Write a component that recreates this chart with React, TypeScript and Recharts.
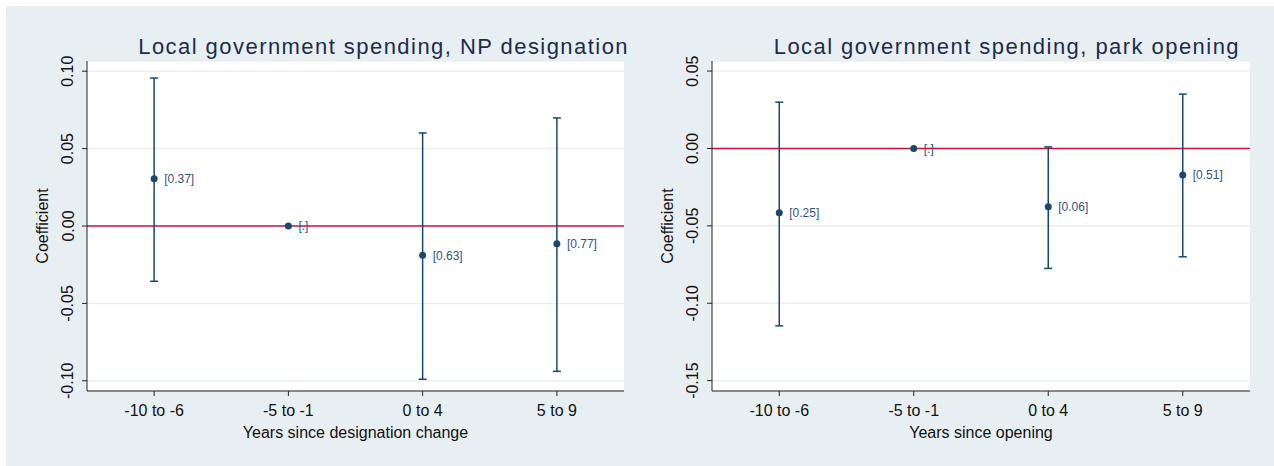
import {
  ComposedChart,
  Line,
  XAxis,
  YAxis,
  CartesianGrid,
  ReferenceLine,
  ErrorBar,
  LabelList,
  Label,
} from "recharts";

const PERIODS = ["-10 to -6", "-5 to -1", "0 to 4", "5 to 9"];

// NP designation panel
const NP_COEF = [0.0306, 0, -0.0189, -0.0114];
const NP_HIGH = [0.0956, null, 0.0601, 0.0698];
const NP_LOW = [-0.0357, null, -0.099, -0.0939];
const NP_PVAL = ["[0.37]", "[.]", "[0.63]", "[0.77]"];
const NP_TICKS = [-0.1, -0.05, 0, 0.05, 0.1];

// park opening panel
const OPEN_COEF = [-0.0416, 0, -0.0377, -0.0171];
const OPEN_HIGH = [0.0299, null, 0.001, 0.0351];
const OPEN_LOW = [-0.1146, null, -0.0775, -0.07];
const OPEN_PVAL = ["[0.25]", "[.]", "[0.06]", "[0.51]"];
const OPEN_TICKS = [-0.15, -0.1, -0.05, 0, 0.05];

const NAVY = "#1a476f";
const RED = "#c8143c";
const BG = "#e8eff3";
const FONT = "'Liberation Sans', Arial, sans-serif";

function buildRows(coef: number[], high: (number | null)[], low: (number | null)[], pval: string[]) {
  return PERIODS.map((p, i) => ({
    period: p,
    coef: coef[i],
    // asymmetric error bar: [distance below, distance above]
    err: high[i] == null ? null : [coef[i] - (low[i] as number), (high[i] as number) - coef[i]],
    pval: pval[i],
  }));
}

function YTick({ x, y, payload }: any) {
  const cx = x - 12;
  return (
    <text
      x={cx}
      y={y}
      transform={`rotate(-90 ${cx} ${y})`}
      textAnchor="middle"
      dominantBaseline="central"
      fontSize={16}
      fontFamily={FONT}
      fill="#111"
    >
      {Number(payload.value).toFixed(2)}
    </text>
  );
}

function Panel({
  rows,
  ticks,
  domain,
  xTitle,
  yAxisWidth,
  width,
  marginRight,
}: {
  rows: any[];
  ticks: number[];
  domain: [number, number];
  xTitle: string;
  yAxisWidth: number;
  width: number;
  marginRight: number;
}) {
  return (
    <ComposedChart
      width={width}
      height={466}
      data={rows}
      margin={{ top: 61, right: marginRight, left: 0, bottom: 0 }}
    >
      <CartesianGrid vertical={false} fill="#ffffff" stroke={BG} strokeWidth={1.5} />
      <XAxis
        dataKey="period"
        type="category"
        scale="band"
        height={75}
        tickSize={5}
        tickMargin={9}
        stroke="#222"
        tick={{ fontSize: 16, fontFamily: FONT, fill: "#111" }}
        tickLine={{ stroke: "#222" }}
      >
        <Label
          content={({ viewBox }: any) => (
            <text
              x={viewBox.x + viewBox.width / 2}
              y={viewBox.y + 47}
              textAnchor="middle"
              fontSize={16}
              fontFamily={FONT}
              fill="#111"
            >
              {xTitle}
            </text>
          )}
        />
      </XAxis>
      <YAxis
        type="number"
        domain={domain}
        allowDataOverflow
        ticks={ticks}
        width={yAxisWidth}
        tickSize={5}
        stroke="#222"
        tick={<YTick />}
      >
        <Label
          content={({ viewBox }: any) => {
            const cx = viewBox.x + viewBox.width - 45;
            const cy = viewBox.y + viewBox.height / 2;
            return (
              <text
                x={cx}
                y={cy}
                transform={`rotate(-90 ${cx} ${cy})`}
                textAnchor="middle"
                dominantBaseline="central"
                fontSize={16}
                fontFamily={FONT}
                fill="#111"
              >
                Coefficient
              </text>
            );
          }}
        />
      </YAxis>
      <ReferenceLine y={0} stroke={RED} strokeWidth={1.5} />
      <Line
        dataKey="coef"
        stroke="none"
        isAnimationActive={false}
        dot={{ r: 3.5, fill: NAVY, stroke: NAVY, strokeWidth: 0 }}
        activeDot={false}
      >
        <ErrorBar dataKey="err" direction="y" width={4} stroke={NAVY} strokeWidth={1.5} />
        <LabelList
          dataKey="pval"
          position="right"
          offset={10}
          fontSize={12}
          fontFamily={FONT}
          fill="#2f5585"
        />
      </Line>
    </ComposedChart>
  );
}

const titleStyle: React.CSSProperties = {
  position: "absolute",
  top: 36,
  fontFamily: FONT,
  fontSize: 22,
  lineHeight: "22px",
  letterSpacing: 1.45,
  color: "#1c2c4c",
  textAlign: "right",
  whiteSpace: "nowrap",
};

export default function App() {
  const npRows = buildRows(NP_COEF, NP_HIGH, NP_LOW, NP_PVAL);
  const openRows = buildRows(OPEN_COEF, OPEN_HIGH, OPEN_LOW, OPEN_PVAL);

  return (
    <div
      style={{
        position: "absolute",
        left: 0,
        top: 0,
        width: 1274,
        height: 466,
        background: "#ffffff",
        overflow: "hidden",
      }}
    >
      <div style={{ position: "absolute", left: 6, top: 6, right: 0, bottom: 0, background: BG }} />
      <div style={{ position: "absolute", left: 0, top: 0 }}>
        <Panel
          rows={npRows}
          ticks={NP_TICKS}
          domain={[-0.1066, 0.1066]}
          xTitle="Years since designation change"
          yAxisWidth={87}
          width={640}
          marginRight={16}
        />
      </div>
      <div style={{ position: "absolute", left: 640, top: 0 }}>
        <Panel
          rows={openRows}
          ticks={OPEN_TICKS}
          domain={[-0.1567, 0.0565]}
          xTitle="Years since opening"
          yAxisWidth={72}
          width={634}
          marginRight={24}
        />
      </div>
      <div style={{ ...titleStyle, left: 0, width: 629 }}>Local government spending, NP designation</div>
      <div style={{ ...titleStyle, left: 640, width: 600 }}>Local government spending, park opening</div>
    </div>
  );
}
